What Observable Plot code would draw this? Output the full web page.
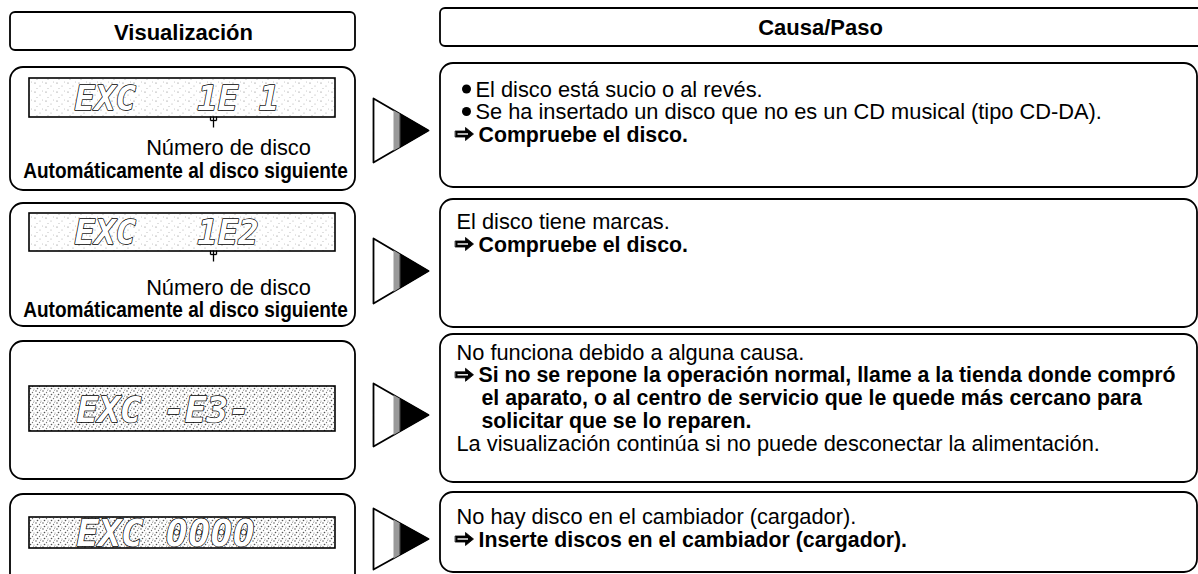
<!DOCTYPE html>
<html><head><meta charset="utf-8">
<script src="https://cdn.jsdelivr.net/npm/d3@7"></script>
<script src="https://cdn.jsdelivr.net/npm/@observablehq/plot@0.6"></script>
<style>
html,body{margin:0;padding:0;background:#fff;}
#chart{width:1198px;height:574px;overflow:hidden;}
</style></head><body><div id="chart"></div>
<script>
// ---------- content ----------
const headers = ["Visualización", "Causa/Paso"];
const lcdCodes = ["EXC   1E 1", "EXC   1E2", "EXC -E3-", "EXC 0000"];
const noteRows = [0, 1];
const noteLines = ["Número de disco", "Automáticamente al disco siguiente"];
const causeText = [
  ["El disco está sucio o al revés.",
   "Se ha insertado un disco que no es un CD musical (tipo CD-DA).",
   "Compruebe el disco."],
  ["El disco tiene marcas.",
   "Compruebe el disco."],
  ["No funciona debido a alguna causa.",
   "Si no se repone la operación normal, llame a la tienda donde compró",
   "el aparato, o al centro de servicio que le quede más cercano para",
   "solicitar que se lo reparen.",
   "La visualización continúa si no puede desconectar la alimentación."],
  ["No hay disco en el cambiador (cargador).",
   "Inserte discos en el cambiador (cargador)."]
];
const causeKind = [
  ["bullet", "bullet", "step"],
  ["plain", "step"],
  ["plain", "step", "cont", "cont", "plain"],
  ["plain", "step"]
];

// ---------- layout (page geometry) ----------
const W = 1198, H = 574;
const layout = {
  left: [10, 355], right: [440, 1197], headRightEnd: 1215,
  arrowX: [373, 428], arrowSplit: 400, arrowFade: 393,
  headLeft: [12, 50], headRight: [8, 46],
  headLeftBase: 39, headRightBase: 34, headLeftCx: 183, headRightCx: 820,
  rowsLeft: [[67, 190], [203, 326], [341, 479], [494, 600]],
  rowsRight: [[63, 187], [199, 327], [334, 482], [492, 572]],
  lcdX: [29, 335], lcdY: [[78, 117], [213, 251], [386, 431], [517, 548]],
  lcdTextX: [74, 74, 76, 76], lcdFont: [34, 34, 36, 37],
  pointerX: 213,
  arrowsY: [[98, 162], [238, 303], [383, 446], [508, 569]],
  noteCx: [228, 185], noteBase: [[154, 177], [294, 316]],
  causeBase: [96, 228, 359, 523], lineGap: [22.5, 23, 22.8, 23],
  tx: {bullet: 466, bulletText: 475, plain: 456, stepArrow: 455, stepText: 478, cont: 481}
};
const FONT = "'Liberation Sans', Arial, Helvetica, sans-serif";
const SIZE_REG = 21.8, SIZE_BOLD = 21.3, SIZE_NOTE_BOLD = 21.5, NOTE_SQUEEZE = 0.885, SIZE_HEAD = 22;
const LCD_LIGHT = "#f4f4f4", LCD_DENSE = "#dddddd";

// ---------- derived mark data ----------
const heads = [
  {x1: layout.left[0], x2: layout.left[1], y1: layout.headLeft[0], y2: layout.headLeft[1]},
  {x1: layout.right[0], x2: layout.headRightEnd, y1: layout.headRight[0], y2: layout.headRight[1]}
];
const rowBoxes = [];
layout.rowsLeft.forEach(([a, b]) => rowBoxes.push({x1: layout.left[0], x2: layout.left[1], y1: a, y2: b}));
layout.rowsRight.forEach(([a, b]) => rowBoxes.push({x1: layout.right[0], x2: layout.right[1], y1: a, y2: b}));

const lcds = lcdCodes.map((code, i) => ({x1: layout.lcdX[0], x2: layout.lcdX[1], y1: layout.lcdY[i][0], y2: layout.lcdY[i][1],
  code, tx: layout.lcdTextX[i], ty: (layout.lcdY[i][0] + layout.lcdY[i][1]) / 2 + 1, row: i, size: layout.lcdFont[i]}));

const headerText = [
  {x: layout.headLeftCx, y: layout.headLeftBase, text: headers[0]},
  {x: layout.headRightCx, y: layout.headRightBase, text: headers[1]}
];

const notes = [];
const pointers = [];
noteRows.forEach((r, k) => {
  notes.push({x: layout.noteCx[0], y: layout.noteBase[k][0], text: noteLines[0], bold: false});
  notes.push({x: layout.noteCx[1], y: layout.noteBase[k][1], text: noteLines[1], bold: true});
  const yb = layout.lcdY[r][1];
  pointers.push({x1: layout.pointerX, y1: yb - 1, x2: layout.pointerX, y2: yb + 10});
  pointers.push({x1: layout.pointerX - 3, y1: yb + 3, x2: layout.pointerX - 3, y2: yb - 1});
  pointers.push({x1: layout.pointerX + 3, y1: yb + 3, x2: layout.pointerX + 3, y2: yb - 1});
  pointers.push({x1: layout.pointerX - 3, y1: yb + 3, x2: layout.pointerX + 3, y2: yb + 3});
});

const triangles = [], blacks = [], fades = [];
layout.arrowsY.forEach(([a, b], i) => {
  const [x0, x1] = layout.arrowX, m = (a + b) / 2;
  triangles.push({row: i, x: x0, y: a}, {row: i, x: x1, y: m}, {row: i, x: x0, y: b});
  const edge = xs => { const t = (xs - x0) / (x1 - x0); return [a + (m - a) * t, b - (b - m) * t]; };
  const [ta, tb] = edge(layout.arrowSplit), [fa, fb] = edge(layout.arrowFade);
  blacks.push({row: i, x: layout.arrowSplit, y: ta}, {row: i, x: x1, y: m}, {row: i, x: layout.arrowSplit, y: tb});
  fades.push({row: i, x: layout.arrowFade, y: fa}, {row: i, x: layout.arrowSplit, y: ta}, {row: i, x: layout.arrowSplit, y: tb}, {row: i, x: layout.arrowFade, y: fb});
});

const regLines = [], boldLines = [], stepArrows = [], bullets = [];
causeText.forEach((lines, r) => {
  lines.forEach((t, j) => {
    const y = layout.causeBase[r] + j * layout.lineGap[r];
    const k = causeKind[r][j];
    if (k === "bullet") { bullets.push({x: layout.tx.bullet, y: y - 7.5}); regLines.push({x: layout.tx.bulletText, y, text: t}); }
    else if (k === "plain") regLines.push({x: layout.tx.plain, y, text: t});
    else if (k === "step") { stepArrows.push({x: layout.tx.stepArrow, y: y - 7.5}); boldLines.push({x: layout.tx.stepText, y, text: t}); }
    else boldLines.push({x: layout.tx.cont, y, text: t});
  });
});
// step arrow "⇨" drawn as a thick arrow shape with a white core
const stepShapes = [], stepCores = [];
stepArrows.forEach((p, i) => {
  const {x, y} = p;
  [[0, -3], [10, -3], [10, -6.5], [18, 0], [10, 6.5], [10, 3], [0, 3]]
    .forEach(([dx, dy]) => stepShapes.push({id: i, x: x + dx, y: y + dy}));
  stepCores.push({x1: x + 2, x2: x + 12.5, y});
});

const svg = Plot.plot({
  width: W, height: H, margin: 0,
  x: {type: "identity", axis: null}, y: {type: "identity", axis: null},
  style: {background: "white", overflow: "hidden"},
  marks: [
    Plot.rect(heads, {x1: "x1", x2: "x2", y1: "y1", y2: "y2", rx: 5, fill: "white", stroke: "black", strokeWidth: 1.8}),
    Plot.rect(rowBoxes, {x1: "x1", x2: "x2", y1: "y1", y2: "y2", rx: 13, fill: "none", stroke: "black", strokeWidth: 1.8}),
    Plot.rect(lcds.filter(d => d.row < 2), {x1: "x1", x2: "x2", y1: "y1", y2: "y2", fill: LCD_LIGHT, stroke: "black", strokeWidth: 1.6}),
    Plot.rect(lcds.filter(d => d.row >= 2), {x1: "x1", x2: "x2", y1: "y1", y2: "y2", fill: LCD_DENSE, stroke: "black", strokeWidth: 1.6}),
    ...lcds.map(d => Plot.text([d], {x: "tx", y: "ty", text: "code", textAnchor: "start", lineAnchor: "middle",
      fontFamily: "'DejaVu Sans Mono', monospace", fontWeight: "bold", fontStyle: "italic", fontSize: d.size,
      fill: "white", stroke: "black", strokeWidth: 1.4})),
    Plot.link(pointers, {x1: "x1", y1: "y1", x2: "x2", y2: "y2", stroke: "black", strokeWidth: 1.3}),
    Plot.text(notes.filter(d => !d.bold), {x: "x", y: "y", text: "text", lineAnchor: "bottom", textAnchor: "middle", fontFamily: FONT, fontSize: SIZE_REG, fill: "black"}),
    Plot.text(notes.filter(d => d.bold), {x: "x", y: "y", text: "text", lineAnchor: "bottom", textAnchor: "middle", fontFamily: FONT, fontWeight: "bold", fontSize: SIZE_NOTE_BOLD, fill: "black"}),
    Plot.text(headerText, {x: "x", y: "y", text: "text", lineAnchor: "bottom", textAnchor: "middle", fontFamily: FONT, fontWeight: "bold", fontSize: SIZE_HEAD, fill: "black"}),
    Plot.line(triangles, {x: "x", y: "y", z: "row", curve: "linear-closed", fill: "white", stroke: "black", strokeWidth: 1.8}),
    Plot.line(fades, {x: "x", y: "y", z: "row", curve: "linear-closed", fill: "#9a9a9a", stroke: "none"}),
    Plot.line(blacks, {x: "x", y: "y", z: "row", curve: "linear-closed", fill: "black", stroke: "black", strokeWidth: 1}),
    Plot.dot(bullets, {x: "x", y: "y", r: 4.5, fill: "black", stroke: null}),
    Plot.line(stepShapes, {x: "x", y: "y", z: "id", curve: "linear-closed", fill: "black", stroke: "black", strokeWidth: 0.8}),
    Plot.link(stepCores, {x1: "x1", x2: "x2", y1: "y", y2: "y", stroke: "white", strokeWidth: 1.4}),
    Plot.text(regLines, {x: "x", y: "y", text: "text", textAnchor: "start", lineAnchor: "bottom", fontFamily: FONT, fontSize: SIZE_REG, fill: "black"}),
    Plot.text(boldLines, {x: "x", y: "y", text: "text", textAnchor: "start", lineAnchor: "bottom", fontFamily: FONT, fontWeight: "bold", fontSize: SIZE_BOLD, fill: "black"})
  ]
});

const root = d3.select(svg);
// condensed look for the bold notes (Helvetica Condensed in the original): squeeze about their centre
root.selectAll("text").filter(function () { return this.textContent === noteLines[1]; }).each(function () {
  const cx = layout.noteCx[1];
  const t = this.getAttribute("transform") || "";
  this.setAttribute("transform", `translate(${cx},0) scale(${NOTE_SQUEEZE},1) translate(${-cx},0) ${t}`);
});

// LCD stipple texture
const defs = root.insert("defs", ":first-child");
function addPattern(id, w, h, pts) {
  const p = defs.append("pattern").attr("id", id).attr("patternUnits", "userSpaceOnUse").attr("width", w).attr("height", h);
  p.append("rect").attr("width", w).attr("height", h).attr("fill", "white");
  pts.forEach(([cx, cy, r, c]) => p.append("circle").attr("cx", cx).attr("cy", cy).attr("r", r).attr("fill", c));
}
addPattern("stipLight", 11, 9, [[2, 2, 0.6, "#777"], [7, 5, 0.5, "#999"], [4, 7.5, 0.5, "#aaa"], [9.5, 1, 0.4, "#888"]]);
addPattern("stipDense", 7, 6, [[1, 1, 0.8, "#666"], [4.5, 2.5, 0.7, "#777"], [2.5, 4.5, 0.8, "#555"], [6, 5, 0.6, "#888"], [5.5, 0.5, 0.5, "#999"]]);
root.selectAll("g, rect").each(function () {
  const f = (this.getAttribute("fill") || "").toLowerCase();
  if (f === LCD_LIGHT) this.setAttribute("fill", "url(#stipLight)");
  else if (f === LCD_DENSE) this.setAttribute("fill", "url(#stipDense)");
});

document.getElementById("chart").appendChild(svg);
</script></body></html>
